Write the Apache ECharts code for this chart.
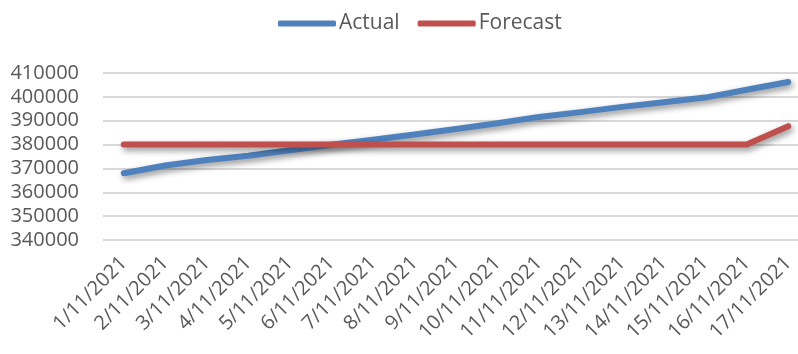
<!DOCTYPE html>
<html>
<head>
<meta charset="utf-8">
<script src="https://cdn.jsdelivr.net/npm/echarts@6/dist/echarts.min.js"></script>
<style>
  html, body { margin: 0; padding: 0; background: #ffffff; overflow: hidden; }
  #chart { width: 812px; height: 354px; }
</style>
</head>
<body>
<div id="chart"></div>
<script>
// Daily dates for November 2021
const categories = [
  '1/11/2021', '2/11/2021', '3/11/2021', '4/11/2021', '5/11/2021', '6/11/2021',
  '7/11/2021', '8/11/2021', '9/11/2021', '10/11/2021', '11/11/2021', '12/11/2021',
  '13/11/2021', '14/11/2021', '15/11/2021', '16/11/2021', '17/11/2021'
];

// Observed values
const actual = [
  368000, 371200, 373500, 375300, 377600, 379900, 382000, 384200, 386500,
  388900, 391600, 393600, 395800, 397700, 399700, 403000, 406200
];

// Forecast values
const forecast = [
  380000, 380000, 380000, 380000, 380000, 380000, 380000, 380000, 380000,
  380000, 380000, 380000, 380000, 380000, 380000, 380000, 387700
];

// Value axis range
const yMin = 340000;
const yMax = 410000;
const yStep = 10000;

const FONT = 'Open Sans';
const TEXT_GREY = '#595959';

const lineShadow = {
  shadowColor: 'rgba(0,0,0,0.45)',
  shadowBlur: 6,
  shadowOffsetX: 2,
  shadowOffsetY: 3
};

const chart = echarts.init(document.getElementById('chart'), null, { renderer: 'canvas' });

chart.setOption({
  animation: false,
  backgroundColor: '#ffffff',
  legend: {
    top: 8,
    left: 273,
    itemGap: 18,
    itemWidth: 58,
    itemHeight: 6,
    icon: 'roundRect',
    textStyle: {
      fontFamily: FONT,
      fontSize: 21,
      color: TEXT_GREY,
      padding: [0, 0, 0, -2]
    },
    data: ['Actual', 'Forecast']
  },
  grid: {
    left: 103,
    top: 73,
    width: 706,
    bottom: 114,
    containLabel: false
  },
  xAxis: {
    type: 'category',
    data: categories,
    boundaryGap: true,
    axisLine: { show: false },
    axisTick: { show: false },
    axisLabel: {
      rotate: 45,
      margin: 20,
      interval: 0,
      fontFamily: FONT,
      fontSize: 20,
      color: TEXT_GREY
    },
    splitLine: { show: false }
  },
  yAxis: {
    type: 'value',
    min: yMin,
    max: yMax,
    interval: yStep,
    axisLine: { show: false },
    axisTick: { show: false },
    axisLabel: {
      margin: 24,
      fontFamily: FONT,
      fontSize: 20,
      color: TEXT_GREY,
      formatter: (v) => String(v)
    },
    splitLine: { lineStyle: { color: '#d9d9d9', width: 2 } }
  },
  series: [
    {
      name: 'Actual',
      type: 'line',
      data: actual,
      symbol: 'none',
      color: '#4f81bd',
      lineStyle: Object.assign({ width: 6, color: '#4f81bd', cap: 'round', join: 'round' }, lineShadow),
      z: 2
    },
    {
      name: 'Forecast',
      type: 'line',
      data: forecast,
      symbol: 'none',
      color: '#c0504d',
      lineStyle: Object.assign({ width: 6, color: '#c0504d', cap: 'round', join: 'round' }, lineShadow),
      z: 3
    }
  ]
});
</script>
</body>
</html>
